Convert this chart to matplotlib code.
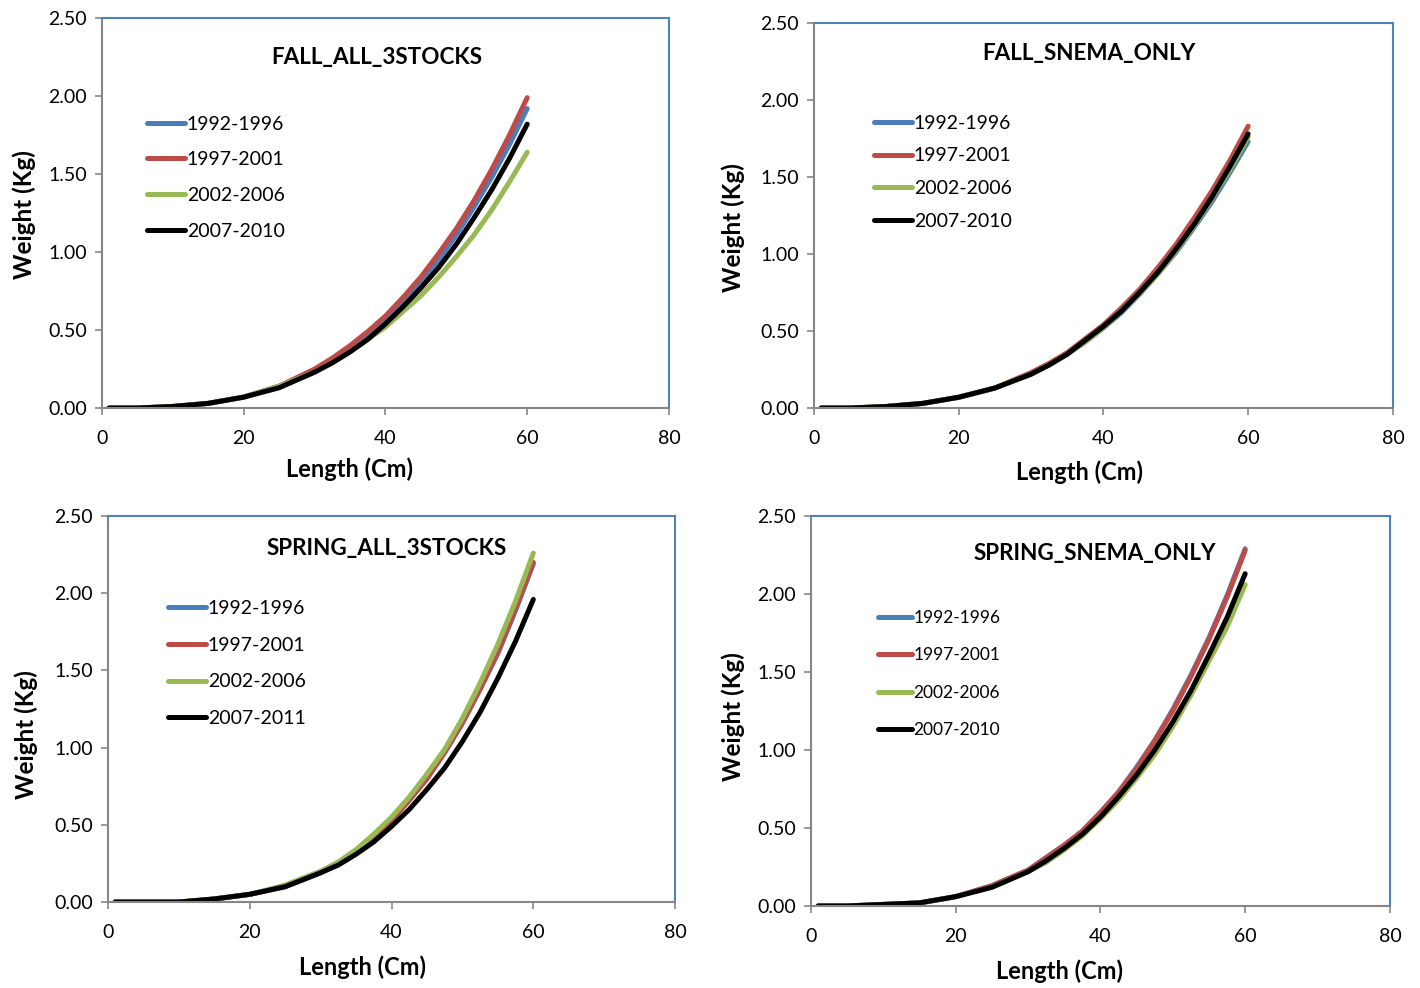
import numpy as np
import matplotlib
matplotlib.use('Agg')
import matplotlib.pyplot as plt

plt.rcParams['font.family'] = ['Lato', 'DejaVu Sans']

length = [1, 5, 10, 15, 20, 25, 30, 32.5, 35, 37.5, 40, 42.5, 45, 47.5, 50, 52.5, 55, 57.5, 60]

# FALL_ALL_3STOCKS
fall_all_9296 = [0, 0, 0.01, 0.03, 0.07, 0.14, 0.24, 0.31, 0.38, 0.47, 0.57, 0.68, 0.81, 0.95, 1.11, 1.29, 1.48, 1.69, 1.92]
fall_all_9701 = [0, 0, 0.01, 0.03, 0.07, 0.14, 0.25, 0.32, 0.40, 0.49, 0.59, 0.71, 0.84, 0.99, 1.15, 1.33, 1.53, 1.75, 1.99]
fall_all_0206 = [0, 0, 0.01, 0.03, 0.07, 0.14, 0.23, 0.29, 0.36, 0.44, 0.52, 0.62, 0.72, 0.84, 0.97, 1.11, 1.27, 1.45, 1.64]
fall_all_0710 = [0, 0, 0.01, 0.03, 0.07, 0.13, 0.23, 0.29, 0.36, 0.44, 0.54, 0.65, 0.77, 0.90, 1.05, 1.22, 1.40, 1.60, 1.82]

# FALL_SNEMA_ONLY
fall_sn_9296 = [0, 0, 0.01, 0.03, 0.07, 0.13, 0.22, 0.28, 0.35, 0.43, 0.52, 0.62, 0.74, 0.87, 1.01, 1.17, 1.34, 1.53, 1.73]
fall_sn_9701 = [0, 0, 0.01, 0.03, 0.07, 0.13, 0.23, 0.29, 0.36, 0.45, 0.54, 0.65, 0.77, 0.91, 1.06, 1.23, 1.41, 1.61, 1.83]
fall_sn_0206 = [0, 0, 0.01, 0.03, 0.07, 0.13, 0.22, 0.28, 0.35, 0.43, 0.52, 0.63, 0.74, 0.87, 1.02, 1.18, 1.36, 1.55, 1.76]
fall_sn_0710 = [0, 0, 0.01, 0.03, 0.07, 0.13, 0.22, 0.28, 0.35, 0.44, 0.53, 0.63, 0.75, 0.88, 1.03, 1.19, 1.37, 1.57, 1.78]

# SPRING_ALL_3STOCKS
spr_all_9296 = [0, 0, 0, 0.02, 0.05, 0.10, 0.19, 0.25, 0.33, 0.42, 0.53, 0.66, 0.80, 0.97, 1.16, 1.38, 1.61, 1.89, 2.19]
spr_all_9701 = [0, 0, 0, 0.02, 0.05, 0.10, 0.19, 0.25, 0.33, 0.42, 0.53, 0.66, 0.80, 0.97, 1.16, 1.38, 1.62, 1.90, 2.20]
spr_all_0206 = [0, 0, 0, 0.02, 0.05, 0.11, 0.20, 0.26, 0.34, 0.44, 0.55, 0.68, 0.83, 0.99, 1.19, 1.42, 1.67, 1.95, 2.26]
spr_all_0711 = [0, 0, 0, 0.02, 0.05, 0.10, 0.19, 0.24, 0.31, 0.39, 0.49, 0.60, 0.73, 0.87, 1.04, 1.23, 1.45, 1.69, 1.96]

# SPRING_SNEMA_ONLY
spr_sn_9296 = [0, 0, 0.01, 0.02, 0.06, 0.13, 0.23, 0.31, 0.39, 0.48, 0.60, 0.73, 0.89, 1.06, 1.26, 1.48, 1.72, 1.99, 2.29]
spr_sn_9701 = [0, 0, 0.01, 0.02, 0.06, 0.13, 0.23, 0.31, 0.39, 0.48, 0.60, 0.73, 0.88, 1.06, 1.25, 1.47, 1.71, 1.98, 2.28]
spr_sn_0206 = [0, 0, 0.01, 0.02, 0.06, 0.12, 0.22, 0.28, 0.36, 0.45, 0.56, 0.68, 0.82, 0.97, 1.15, 1.35, 1.57, 1.79, 2.06]
spr_sn_0710 = [0, 0, 0.01, 0.02, 0.06, 0.12, 0.22, 0.29, 0.37, 0.46, 0.57, 0.70, 0.84, 1.00, 1.18, 1.38, 1.61, 1.85, 2.13]

colors = ['#4A7EBB', '#BE4B48', '#98B954', '#000000']

panels = [
    # title, series, labels, axes rect, legend anchor, title pos, legend spacing, legend font,
    # xlabel pos, ylabel pos
    ('FALL_ALL_3STOCKS', [fall_all_9296, fall_all_9701, fall_all_0206, fall_all_0710],
     ['1992-1996', '1997-2001', '2002-2006', '2007-2010'],
     [0.0718, 0.587, 0.3993, 0.3947], (0.0794, 0.750), (0.485, 0.900), 0.96, 14,
     (0.436, -0.126), (-0.1165, 0.495)),
    ('FALL_SNEMA_ONLY', [fall_sn_9296, fall_sn_9701, fall_sn_0206, fall_sn_0710],
     ['1992-1996', '1997-2001', '2002-2006', '2007-2010'],
     [0.5732, 0.587, 0.4077, 0.3897], (0.1036, 0.762), (0.475, 0.922), 0.81, 14,
     (0.458, -0.135), (-0.1191, 0.468)),
    ('SPRING_ALL_3STOCKS', [spr_all_9296, spr_all_9701, spr_all_0206, spr_all_0711],
     ['1992-1996', '1997-2001', '2002-2006', '2007-2011'],
     [0.0761, 0.0870, 0.3993, 0.3907], (0.1058, 0.782), (0.492, 0.917), 1.01, 14,
     (0.448, -0.137), (-0.123, 0.435)),
    ('SPRING_SNEMA_ONLY', [spr_sn_9296, spr_sn_9701, spr_sn_0206, spr_sn_0710],
     ['1992-1996', '1997-2001', '2002-2006', '2007-2010'],
     [0.5711, 0.0830, 0.4077, 0.3947], (0.1157, 0.760), (0.490, 0.905), 1.24, 12.5,
     (0.430, -0.136), (-0.114, 0.485)),
]

fig = plt.figure(figsize=(14.2, 9.88), dpi=100)

for title, series, labels, rect, leg_xy, title_xy, spacing, leg_fs, xl_xy, yl_xy in panels:
    ax = fig.add_axes(rect)
    for vals, lab, c in zip(series, labels, colors):
        ax.plot(length, vals, color=c, lw=3.6, label=lab, solid_capstyle='round')
    ax.set_xlim(0, 80)
    ax.set_ylim(0, 2.5)
    ax.set_xticks([0, 20, 40, 60, 80])
    ax.set_yticks([0, 0.5, 1.0, 1.5, 2.0, 2.5])
    ax.set_yticklabels(['%.2f' % v for v in [0, 0.5, 1.0, 1.5, 2.0, 2.5]])
    ax.tick_params(labelsize=14, color='#868686', length=5, width=1.2)
    ax.tick_params(axis='x', pad=11)
    ax.tick_params(axis='y', pad=6)
    for s in ['left', 'bottom']:
        ax.spines[s].set_color('#868686')
        ax.spines[s].set_linewidth(1.5)
    for s in ['top', 'right']:
        ax.spines[s].set_color('#4F81BD')
        ax.spines[s].set_linewidth(1.5)
    ax.set_xlabel('Length (Cm)', fontsize=17, fontweight='bold')
    ax.set_ylabel('Weight (Kg)', fontsize=17.5, fontweight='bold')
    ax.xaxis.set_label_coords(*xl_xy)
    ax.yaxis.set_label_coords(*yl_xy)
    ax.text(title_xy[0], title_xy[1], title, transform=ax.transAxes, ha='center', va='center',
            fontsize=16.2, fontweight='bold')
    ax.legend(loc='upper left', bbox_to_anchor=leg_xy, frameon=False, fontsize=leg_fs,
              handlelength=1.95, handletextpad=0.1, labelspacing=spacing, borderpad=0,
              borderaxespad=0)

fig.savefig('out.png', dpi=100)
